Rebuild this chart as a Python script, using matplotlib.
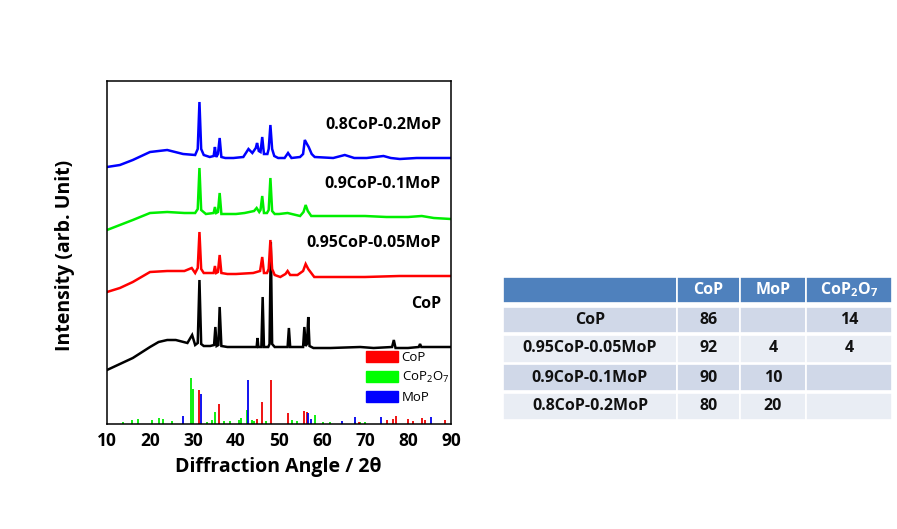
import matplotlib
matplotlib.use("Agg")
import matplotlib.pyplot as plt
from matplotlib.patches import Patch, Rectangle

plt.rcParams['font.family'] = ['Open Sans', 'DejaVu Sans']
plt.rcParams['mathtext.default'] = 'regular'

# ---------------- XRD data (2theta, stacked intensity, arb.) ----------------
mop20_x = [10, 13, 16, 20, 24, 27.7, 30.5, 31.1, 31.5, 31.9, 32.5, 33.9, 34.8, 35.1, 35.4,
           35.8, 36.2, 36.6, 37.5, 39.4, 41.7, 42.9, 43.8, 44.6, 44.9, 45.3, 45.7, 46.1, 46.5,
           47.3, 47.6, 48.0, 48.4, 48.9, 49.8, 51.3, 52.1, 52.9, 54.9, 55.6, 56.0, 56.5, 56.9,
           57.6, 58.3, 62.6, 65.3, 67.5, 70.4, 74.3, 76.0, 78.1, 82.0, 85.9, 90]
mop20_y = [257, 259, 264, 272, 274, 270, 269, 275, 322, 275, 269, 267, 268, 277, 267,
           270, 286, 267, 266, 266, 267, 275, 271, 276, 281, 273, 272, 287, 270,
           270, 275, 299, 275, 268, 266, 266, 271, 266, 267, 270, 284, 280, 277,
           270, 267, 266, 269, 266, 266, 268, 266, 265, 266, 266, 266]

mop10_x = [10, 13, 16, 20, 24, 28, 30.5, 31.1, 31.5, 31.9, 33, 34.8, 35.1, 35.4, 35.8, 36.2,
           36.6, 38, 40, 42, 44.2, 44.8, 45.4, 45.7, 46.1, 46.5, 47.2, 47.6, 48.0, 48.4, 49,
           50, 52, 54.9, 55.7, 56.2, 56.7, 57.5, 60, 65, 70, 75, 80, 83.2, 86, 90]
mop10_y = [194, 199, 204, 211, 212, 211, 211, 215, 256, 214, 210, 211, 217, 211, 212, 231,
           210, 210, 210, 211, 213, 216, 212, 214, 228, 211, 211, 214, 246, 213, 210,
           210, 211, 208, 212, 219, 213, 208, 208, 208, 208, 207, 207, 208, 206, 205]

mop05_x = [10, 13, 16, 20, 24, 28, 29.7, 30.5, 31.1, 31.5, 31.9, 32.5, 34.8, 35.1, 35.4, 35.8,
           36.2, 36.6, 38, 40, 44, 45.6, 46.1, 46.5, 47.2, 47.6, 48.0, 48.4, 49, 50.3, 51.5,
           52.0, 52.6, 54.3, 55.6, 56.2, 56.8, 58.2, 62, 70, 78, 86, 90]
mop05_y = [132, 136, 142, 152, 153, 153, 156, 151, 156, 192, 155, 151, 151, 158, 151, 152,
           169, 151, 150, 150, 151, 153, 167, 151, 151, 155, 184, 155, 149, 147, 150,
           153, 149, 149, 153, 160, 155, 147, 147, 147, 148, 148, 148]

cop_x = [10, 13, 16, 20, 22, 24, 26, 28.7, 29.8, 30.5, 31.1, 31.5, 31.9, 32.5, 34, 34.9, 35.2,
         35.5, 35.9, 36.2, 36.6, 38, 42, 44.8, 45.0, 45.2, 45.9, 46.2, 46.5, 47.5, 47.8, 48.1,
         48.4, 49, 51, 52.0, 52.3, 52.6, 55.6, 55.9, 56.2, 56.5, 56.8, 57.1, 58, 62, 68.9,
         72, 76.3, 76.7, 77.1, 80, 82.5, 82.8, 83.1, 86, 90]
cop_y = [54, 60, 66, 77, 82, 84, 84, 81, 89, 79, 81, 144, 80, 78, 78, 79, 97,
         78, 79, 117, 78, 77, 77, 77, 86, 77, 77, 127, 77, 77, 80, 182,
         80, 77, 77, 77, 96, 77, 77, 97, 78, 80, 107, 78, 76, 76, 77,
         76, 77, 84, 76, 76, 77, 80, 77, 77, 77]

# ---------------- reference stick patterns ----------------
ref_cop_pos = [31.5, 36.1, 44.8, 46.1, 48.1, 52.0, 55.9, 56.6, 68.5, 75.0, 76.4, 77.2, 80.1,
               81.2, 83.3, 84.0, 88.6]
ref_cop_h = [34, 19.7, 5, 22.3, 44, 10.7, 13.3, 12.3, 2.5, 4, 5, 8.3, 5,
             3, 5.7, 4, 4]
ref_cop2o7_pos = [13.8, 15.9, 17.3, 20.4, 22.0, 23.1, 25.1, 29.5, 30.1, 33.2, 34.4, 35.1,
                  37.1, 38.7, 40.6, 41.2, 42.5, 43.7, 44.3, 47.0, 53.0, 54.1, 58.4, 60.3,
                  61.9, 67.7, 68.8, 70.0]
ref_cop2o7_h = [2.3, 4, 4.7, 4, 5.7, 4.7, 3.3, 45.7, 34.7, 2.3, 4, 12.3,
                3, 3.3, 4, 5.7, 14, 4, 3.3, 3.3, 4, 3.3, 9, 2.3,
                2.3, 2, 2.5, 2]
ref_mop_pos = [27.7, 31.8, 42.9, 56.8, 57.4, 64.6, 67.6, 73.7, 85.3]
ref_mop_h = [8, 30, 44, 11.3, 4.7, 3, 7.3, 7.3, 7.3]

series = [
    (cop_x, cop_y, 'black', 'CoP', 120),
    (mop05_x, mop05_y, '#ff0000', '0.95CoP-0.05MoP', 181),
    (mop10_x, mop10_y, '#00ee00', '0.9CoP-0.1MoP', 240),
    (mop20_x, mop20_y, '#0000ff', '0.8CoP-0.2MoP', 299),
]

# ---------------- table data ----------------
tbl_cols = ['', 'CoP', 'MoP', 'CoP$_2$O$_7$']
tbl_rows = ['CoP', '0.95CoP-0.05MoP', '0.9CoP-0.1MoP', '0.8CoP-0.2MoP']
tbl_cop = ['86', '92', '90', '80']
tbl_mop = ['', '4', '10', '20']
tbl_cop2o7 = ['14', '4', '', '']

W, H = 897, 529
fig = plt.figure(figsize=(W / 100, H / 100), dpi=100)

ax = fig.add_axes([107 / W, 1 - 424 / H, 344 / W, 343.3 / H])
for x, y, c, lab, ly in series:
    ax.plot(x, y, color=c, lw=1.8, solid_joinstyle='miter')
    ax.text(87.7, ly, lab, ha='right', va='center', fontsize=11.5, fontweight='bold')

ax.vlines(ref_cop2o7_pos, 0, ref_cop2o7_h, color='#00ee00', lw=1.3)
ax.vlines(ref_cop_pos, 0, ref_cop_h, color='#ee0000', lw=1.3)
ax.vlines(ref_mop_pos, 0, ref_mop_h, color='#0000ee', lw=1.3)

ax.set_xlim(10, 90)
ax.set_ylim(0, 343.3)
ax.set_xticks(range(10, 91, 10))
ax.set_yticks([])
ax.tick_params(axis='x', length=0, pad=6, labelsize=12.5)
for t in ax.get_xticklabels():
    t.set_fontweight('bold')
for s in ax.spines.values():
    s.set_linewidth(1.1)

ax.set_xlabel('Diffraction Angle / 2θ', fontsize=14, fontweight='bold')
ax.xaxis.label.set_va('center')
ax.xaxis.set_label_coords(0.497, -0.124)
ax.set_ylabel('Intensity (arb. Unit)', fontsize=14, fontweight='bold')
ax.yaxis.label.set_va('center')
ax.yaxis.set_label_coords(-0.122, 0.49)

handles = [Patch(color='#ff0000', label='CoP'),
           Patch(color='#00ff00', label='CoP$_2$O$_7$'),
           Patch(color='#0000ff', label='MoP')]
ax.legend(handles=handles, loc='upper left', bbox_to_anchor=(0.753, 0.213),
          frameon=False, fontsize=9.5, handlelength=2.4, handleheight=0.9,
          handletextpad=0.3, borderpad=0, borderaxespad=0, labelspacing=0.45)

# ---------------- table (figure pixel layout) ----------------
tax = fig.add_axes([0, 0, 1, 1])
tax.set_xlim(0, W)
tax.set_ylim(H, 0)
tax.axis('off')
col_edges = [503, 677, 740, 806, 892]
row_edges = [(277, 302.5), (306.5, 333), (334.5, 362.5), (364, 391), (392.5, 419.5)]
row_colors = ['#4f81bd', '#d0d8e8', '#e9edf4', '#d0d8e8', '#e9edf4']
body = [[tbl_rows[i], tbl_cop[i], tbl_mop[i], tbl_cop2o7[i]] for i in range(4)]
cells = [tbl_cols] + body
for r, (y0, y1) in enumerate(row_edges):
    for c in range(4):
        x0, x1 = col_edges[c], col_edges[c + 1]
        tax.add_patch(Rectangle((x0, y0), x1 - x0, y1 - y0, facecolor=row_colors[r],
                                edgecolor='white', lw=1.2))
        txt = cells[r][c]
        if txt:
            tax.text((x0 + x1) / 2, (y0 + y1) / 2, txt, ha='center', va='center',
                     fontsize=11.5, fontweight='bold',
                     color='white' if r == 0 else '#111111')

fig.savefig('out.png', dpi=100)
